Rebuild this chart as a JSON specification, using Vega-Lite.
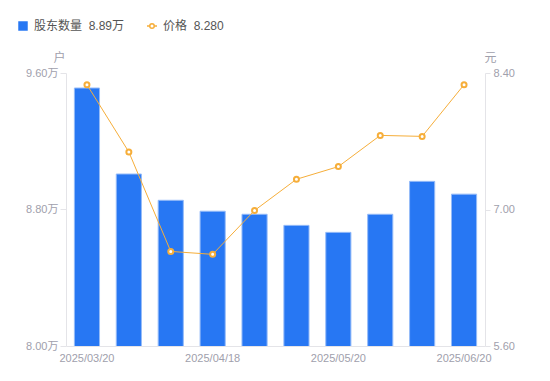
{
  "$schema": "https://vega.github.io/schema/vega-lite/v6.json",
  "autosize": "none",
  "padding": {"left": 66, "top": 73, "right": 65, "bottom": 35},
  "width": 419,
  "height": 273,
  "config": {
    "view": {"stroke": null},
    "font": "Liberation Sans, Noto Sans CJK SC"
  },
  "data": {
    "values": [
      {"date": "2025/03/20", "holders": 9.512, "price": 8.28},
      {"date": "2025/03/31", "holders": 9.008, "price": 7.59},
      {"date": "2025/04/10", "holders": 8.854, "price": 6.57},
      {"date": "2025/04/18", "holders": 8.79, "price": 6.54},
      {"date": "2025/04/30", "holders": 8.772, "price": 6.99},
      {"date": "2025/05/09", "holders": 8.707, "price": 7.31},
      {"date": "2025/05/20", "holders": 8.666, "price": 7.44},
      {"date": "2025/05/30", "holders": 8.772, "price": 7.76},
      {"date": "2025/06/10", "holders": 8.965, "price": 7.75},
      {"date": "2025/06/20", "holders": 8.89, "price": 8.28}
    ]
  },
  "encoding": {
    "x": {
      "field": "date",
      "type": "ordinal",
      "sort": null,
      "scale": {"paddingInner": 0.4, "paddingOuter": 0.2},
      "axis": {
        "title": null,
        "labelAngle": 0,
        "ticks": false,
        "values": ["2025/03/20", "2025/04/18", "2025/05/20", "2025/06/20"],
        "domainColor": "#e4e4e8",
        "labelColor": "#a0a0ac",
        "labelFontSize": 11,
        "labelPadding": 6
      }
    }
  },
  "layer": [
    {
      "mark": {"type": "bar", "stroke": "#95bbf8", "strokeWidth": 1, "clip": true},
      "encoding": {
        "y": {
          "field": "holders",
          "type": "quantitative",
          "scale": {"domain": [8, 9.6], "zero": false, "nice": false},
          "axis": {
            "orient": "left",
            "title": "户",
            "titleAngle": 0,
            "titleX": -7,
            "titleY": -16,
            "titleAlign": "center",
            "titleBaseline": "middle",
            "titleColor": "#a0a0ac",
            "titleFontSize": 12,
            "titleFontWeight": "normal",
            "values": [8, 8.8, 9.6],
            "labelExpr": "format(datum.value, '.2f') + '万'",
            "grid": false,
            "domainColor": "#e4e4e8",
            "tickColor": "#e4e4e8",
            "tickSize": 6,
            "labelColor": "#a0a0ac",
            "labelFontSize": 11,
            "labelPadding": 2
          }
        },
        "fill": {
          "datum": "股东数量",
          "scale": {"domain": ["股东数量"], "range": ["#2777f3"]},
          "legend": {
            "orient": "none",
            "legendX": -49,
            "legendY": -53,
            "title": null,
            "symbolType": "square",
            "symbolSize": 90,
            "symbolStrokeWidth": 0,
            "labelExpr": "datum.label + '\u00a0\u00a08.89万'",
            "labelFontSize": 12,
            "labelColor": "#555",
            "labelOffset": 5
          }
        }
      }
    },
    {
      "mark": {"type": "line", "strokeWidth": 1},
      "encoding": {
        "y": {
          "field": "price",
          "type": "quantitative",
          "scale": {"domain": [5.6, 8.4], "zero": false, "nice": false},
          "axis": {
            "orient": "right",
            "title": "元",
            "titleAngle": 0,
            "titleX": 5,
            "titleY": -16,
            "titleAlign": "center",
            "titleBaseline": "middle",
            "titleColor": "#a0a0ac",
            "titleFontSize": 12,
            "titleFontWeight": "normal",
            "values": [5.6, 7.0, 8.4],
            "format": ".2f",
            "grid": false,
            "domainColor": "#e4e4e8",
            "tickColor": "#e4e4e8",
            "tickSize": 5,
            "labelColor": "#a0a0ac",
            "labelFontSize": 11,
            "labelPadding": 3
          }
        },
        "stroke": {
          "datum": "价格",
          "scale": {"domain": ["价格"], "range": ["#f6ae3a"]},
          "legend": {
            "orient": "none",
            "legendX": 80,
            "legendY": -53,
            "title": null,
            "symbolType": "M-1,0L-0.45,0M0.45,0L1,0M0.45,0A0.45,0.45,0,1,1,-0.45,0A0.45,0.45,0,1,1,0.45,0",
            "symbolSize": 100,
            "symbolStrokeWidth": 1.5,
            "symbolFillColor": "white",
            "labelExpr": "datum.label + '\u00a0\u00a08.280'",
            "labelFontSize": 12,
            "labelColor": "#555",
            "labelOffset": 5
          }
        }
      }
    },
    {
      "mark": {"type": "point", "filled": false, "fill": "white", "fillOpacity": 1, "size": 25, "strokeWidth": 2, "opacity": 1, "color": "#f6ae3a"},
      "encoding": {
        "y": {"field": "price", "type": "quantitative", "scale": {"domain": [5.6, 8.4], "zero": false, "nice": false}, "axis": null}
      }
    }
  ],
  "resolve": {"scale": {"y": "independent", "fill": "independent", "stroke": "independent"}}
}
